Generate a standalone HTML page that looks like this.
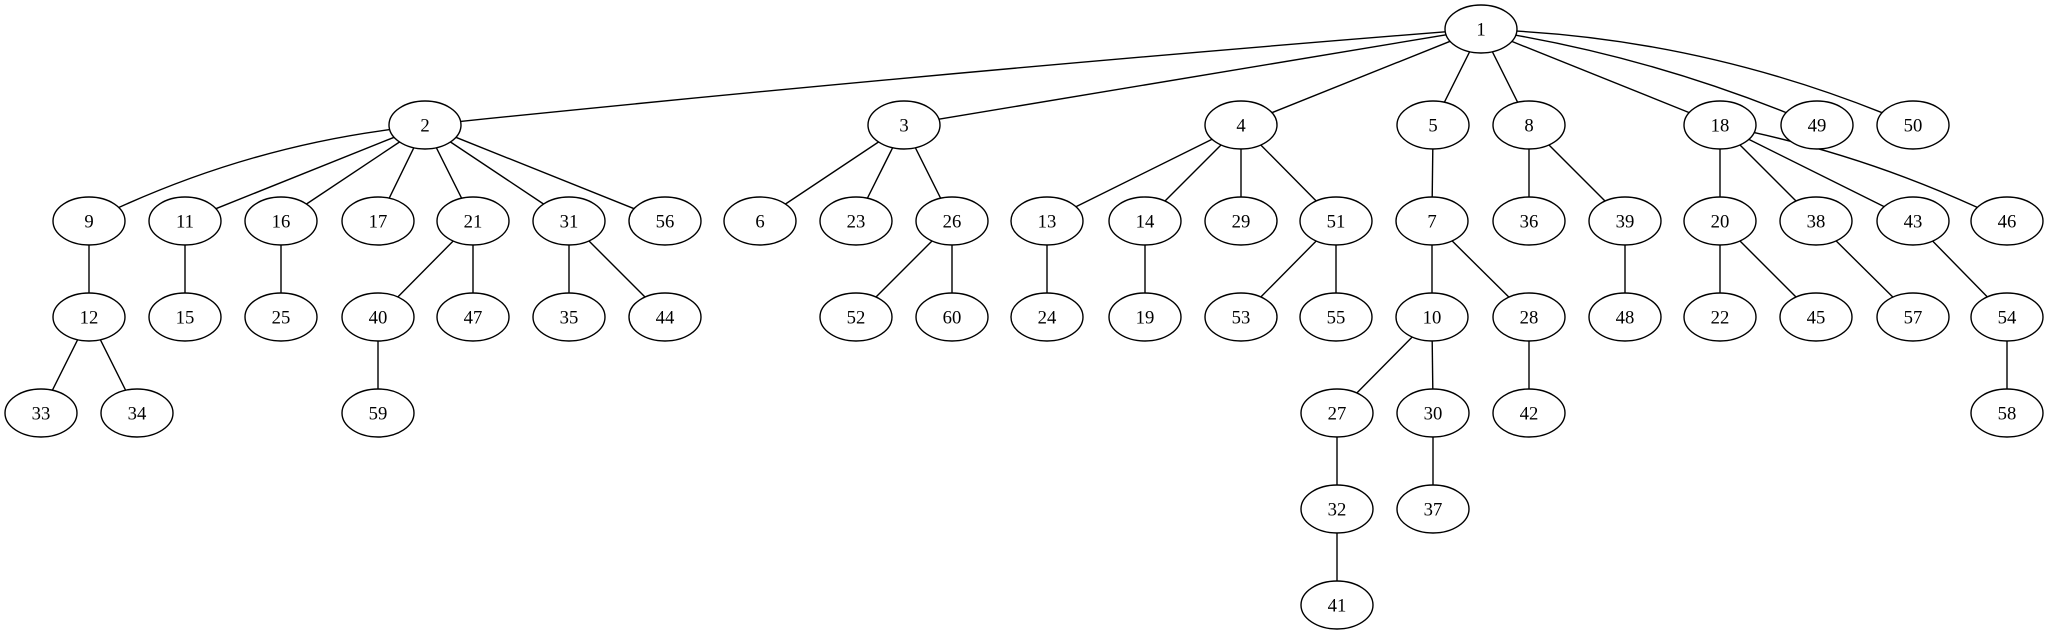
<!DOCTYPE html>
<html><head><meta charset="utf-8"><style>
html,body{margin:0;padding:0;background:#fff;}
svg{display:block;}
text{font-family:"Liberation Serif",serif;font-size:18.67px;}
</style></head><body>
<svg id="g" width="2051" height="635" viewBox="0 0 2051 635" xmlns="http://www.w3.org/2000/svg"></svg>
<script>
var R=[29,125,221,317,413,509,605];
var N={
1:[1481,0],
2:[425,1],3:[904,1],4:[1241,1],5:[1433,1],8:[1529,1],18:[1720,1],49:[1817,1],50:[1913,1],
9:[89,2],11:[185,2],16:[281,2],17:[378,2],21:[473,2],31:[569,2],56:[665,2],6:[760,2],23:[856,2],26:[952,2],
13:[1047,2],14:[1145,2],29:[1241,2],51:[1336,2],7:[1432,2],36:[1529,2],39:[1625,2],20:[1720,2],38:[1816,2],43:[1913,2],46:[2007,2],
12:[89,3],15:[185,3],25:[281,3],40:[378,3],47:[473,3],35:[569,3],44:[665,3],52:[856,3],60:[952,3],
24:[1047,3],19:[1145,3],53:[1241,3],55:[1336,3],10:[1432,3],28:[1529,3],48:[1625,3],22:[1720,3],45:[1816,3],57:[1913,3],54:[2007,3],
33:[41,4],34:[137,4],59:[378,4],27:[1337,4],30:[1433,4],42:[1529,4],58:[2007,4],
32:[1337,5],37:[1433,5],41:[1337,6]};
var E=[[1,2,3],[1,3],[1,4],[1,5],[1,8],[1,18],[1,49,9],[1,50,18],
[2,9,-13],[2,11],[2,16],[2,17],[2,21],[2,31],[2,56],
[3,6],[3,23],[3,26],[4,13],[4,14],[4,29],[4,51],[5,7],[8,36],[8,39],
[18,20],[18,38],[18,43],[18,46,8],
[9,12],[11,15],[16,25],[21,40],[21,47],[31,35],[31,44],[26,52],[26,60],
[13,24],[14,19],[51,53],[51,55],[7,10],[7,28],[39,48],[20,22],[20,45],[38,57],[43,54],
[12,33],[12,34],[40,59],[10,27],[10,30],[28,42],[54,58],[27,32],[30,37],[32,41]];
var rx=36,ry=24,s='';
function P(id){var n=N[id];return [n[0],R[n[1]]];}
function clip(c,d){var t=1/Math.sqrt(Math.pow(d[0]/rx,2)+Math.pow(d[1]/ry,2));return [c[0]+d[0]*t,c[1]+d[1]*t];}
E.forEach(function(e){
 var a=P(e[0]),b=P(e[1]),off=e[2]||0;
 if(!off){
  var d=[b[0]-a[0],b[1]-a[1]];
  var p=clip(a,d),q=clip(b,[-d[0],-d[1]]);
  s+='<line x1="'+p[0].toFixed(1)+'" y1="'+p[1].toFixed(1)+'" x2="'+q[0].toFixed(1)+'" y2="'+q[1].toFixed(1)+'" stroke="#000" stroke-width="1.4"/>';
 }else{
  var dx=b[0]-a[0],dy=b[1]-a[1],L=Math.sqrt(dx*dx+dy*dy);
  var nx=dy/L,ny=-dx/L; if(ny>0){nx=-nx;ny=-ny;}
  var c=[(a[0]+b[0])/2+nx*Math.abs(off)*2,(a[1]+b[1])/2+ny*Math.abs(off)*2];
  var p=clip(a,[c[0]-a[0],c[1]-a[1]]),q=clip(b,[c[0]-b[0],c[1]-b[1]]);
  s+='<path d="M'+p[0].toFixed(1)+','+p[1].toFixed(1)+' Q'+c[0].toFixed(1)+','+c[1].toFixed(1)+' '+q[0].toFixed(1)+','+q[1].toFixed(1)+'" fill="none" stroke="#000" stroke-width="1.4"/>';
 }
});
for(var k in N){var p=P(k);
 s+='<ellipse cx="'+p[0]+'" cy="'+p[1]+'" rx="'+rx+'" ry="'+ry+'" fill="#fff" stroke="#000" stroke-width="1.4"/>';
 s+='<text x="'+p[0]+'" y="'+(p[1]+6.5)+'" text-anchor="middle">'+k+'</text>';}
document.getElementById('g').innerHTML=s;
</script>
</body></html>
